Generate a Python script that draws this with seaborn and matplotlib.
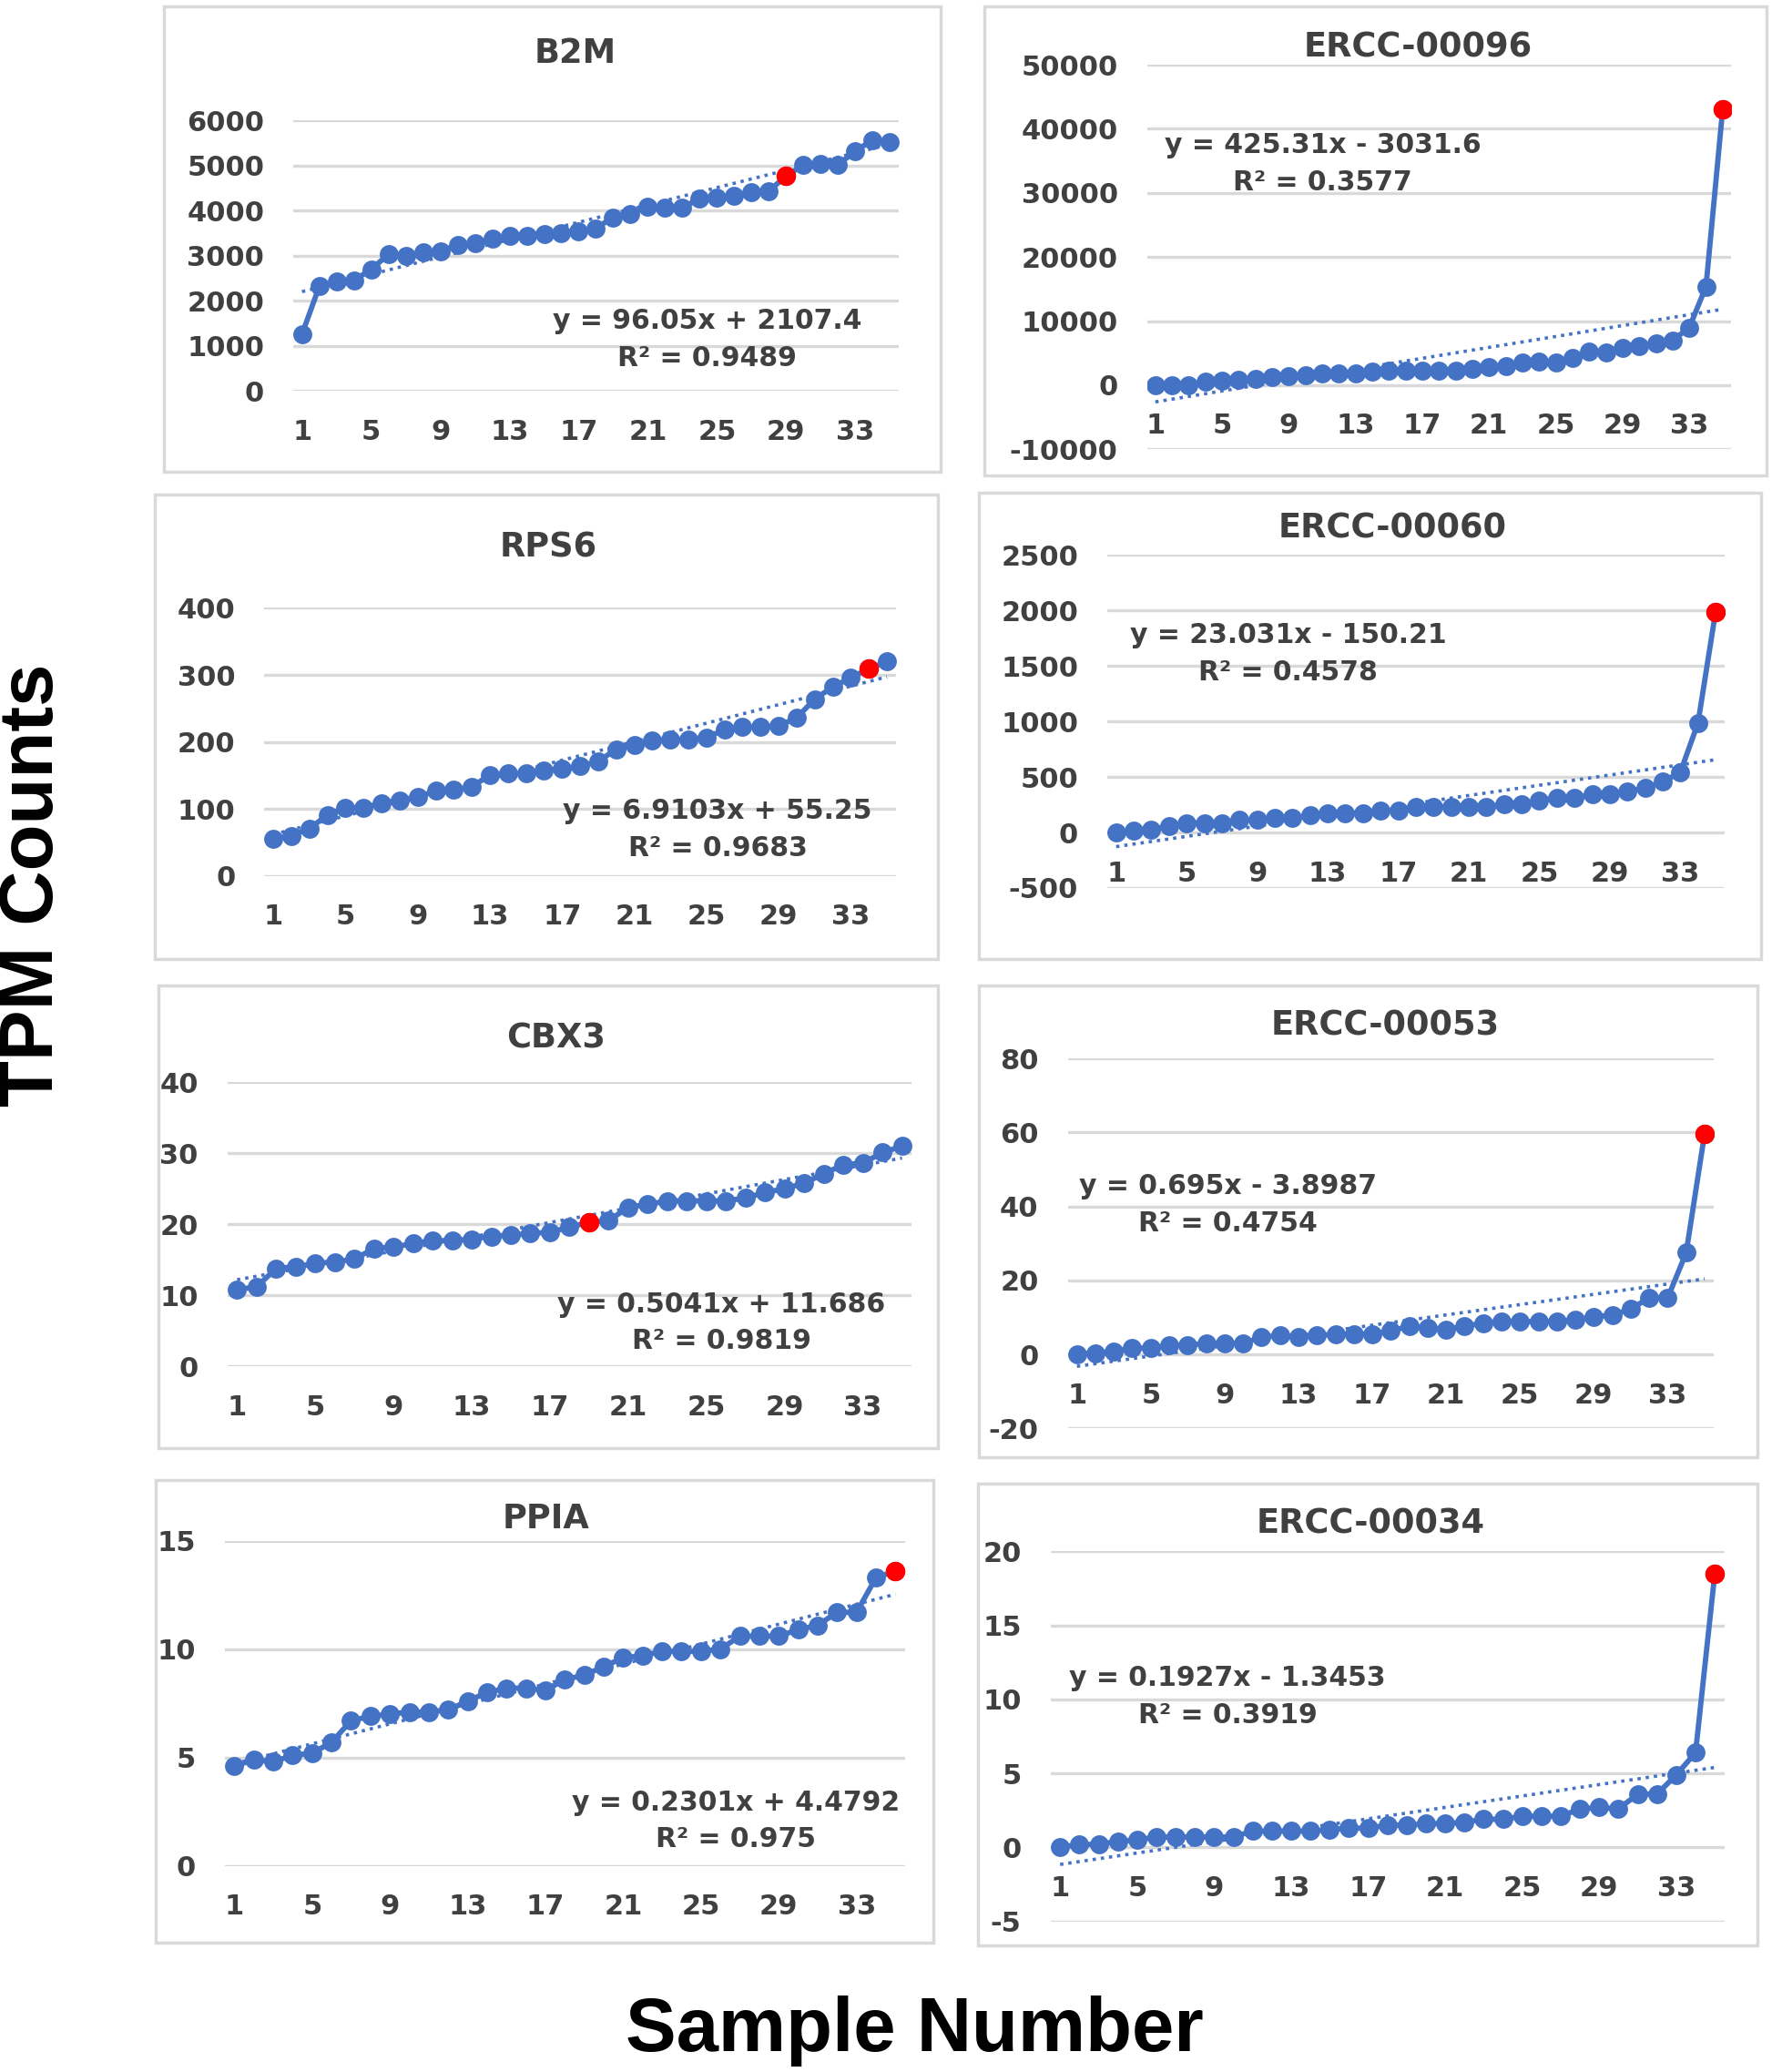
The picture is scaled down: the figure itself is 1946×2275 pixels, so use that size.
import numpy as np
import matplotlib
matplotlib.use('Agg')
import matplotlib.pyplot as plt
import seaborn as sns
from matplotlib.patches import Rectangle

# TPM counts per sample (35 samples, sorted) for each gene / spike-in
samples = list(range(1, 36))

b2m = [1260, 2320, 2420, 2450, 2700, 3030, 3000, 3070, 3100, 3240, 3270, 3370, 3440, 3440, 3480,
       3500, 3540, 3610, 3850, 3920, 4090, 4060, 4070, 4260, 4290, 4330, 4400, 4430, 4770, 5010,
       5040, 5010, 5320, 5560, 5520]
ercc_00096 = [0, 0, 0, 600, 700, 900, 1000, 1200, 1400, 1600, 1800, 1900, 1900, 2100, 2200,
              2200, 2300, 2300, 2300, 2500, 2900, 3000, 3600, 3700, 3600, 4200, 5300, 5100, 5800, 6100,
              6500, 7000, 9000, 15400, 43100]
rps6 = [55, 60, 71, 91, 102, 102, 109, 113, 118, 127, 129, 133, 151, 153, 153,
        158, 160, 164, 171, 189, 196, 202, 204, 204, 207, 218, 222, 222, 224, 236,
        264, 282, 296, 309, 320]
ercc_00060 = [0, 14, 29, 57, 86, 86, 86, 114, 114, 129, 129, 157, 171, 171, 171,
              200, 200, 229, 229, 229, 229, 229, 257, 257, 286, 314, 314, 343, 343, 371,
              400, 457, 543, 986, 1990]
cbx3 = [10.8, 11.2, 13.8, 14.0, 14.5, 14.7, 15.1, 16.6, 16.8, 17.3, 17.7, 17.7, 17.9, 18.3, 18.5,
        18.7, 18.9, 19.6, 20.3, 20.5, 22.4, 22.8, 23.3, 23.3, 23.3, 23.3, 23.7, 24.5, 25.0, 25.8,
        27.1, 28.4, 28.6, 30.1, 31.0]
ercc_00053 = [0, 0.4, 0.8, 1.7, 1.7, 2.5, 2.5, 3.0, 3.0, 3.0, 4.7, 5.1, 4.7, 5.1, 5.5,
              5.5, 5.5, 6.4, 7.6, 7.2, 6.8, 7.6, 8.5, 8.9, 8.9, 8.9, 8.9, 9.3, 10.2, 10.6,
              12.3, 15.3, 15.3, 27.5, 59.7]
ppia = [4.6, 4.9, 4.8, 5.1, 5.2, 5.7, 6.7, 6.9, 7.0, 7.1, 7.1, 7.2, 7.6, 8.0, 8.2,
        8.2, 8.1, 8.6, 8.8, 9.2, 9.6, 9.7, 9.9, 9.9, 9.9, 10.0, 10.6, 10.6, 10.6, 10.9,
        11.1, 11.7, 11.7, 13.3, 13.6]
ercc_00034 = [0, 0.2, 0.2, 0.4, 0.5, 0.7, 0.7, 0.7, 0.7, 0.7, 1.1, 1.1, 1.1, 1.1, 1.2,
              1.3, 1.3, 1.5, 1.5, 1.6, 1.6, 1.7, 1.9, 1.9, 2.1, 2.1, 2.1, 2.6, 2.7, 2.6,
              3.6, 3.6, 4.9, 6.4, 18.5]

titles = ['B2M', 'ERCC-00096', 'RPS6', 'ERCC-00060', 'CBX3', 'ERCC-00053', 'PPIA', 'ERCC-00034']
series = [b2m, ercc_00096, rps6, ercc_00060, cbx3, ercc_00053, ppia, ercc_00034]
slopes = [96.05, 425.31, 6.9103, 23.031, 0.5041, 0.695, 0.2301, 0.1927]
intercepts = [2107.4, -3031.6, 55.25, -150.21, 11.686, -3.8987, 4.4792, -1.3453]
eq_labels = ['y = 96.05x + 2107.4', 'y = 425.31x - 3031.6', 'y = 6.9103x + 55.25',
             'y = 23.031x - 150.21', 'y = 0.5041x + 11.686', 'y = 0.695x - 3.8987',
             'y = 0.2301x + 4.4792', 'y = 0.1927x - 1.3453']
r2_labels = ['R² = 0.9489', 'R² = 0.3577', 'R² = 0.9683', 'R² = 0.4578',
             'R² = 0.9819', 'R² = 0.4754', 'R² = 0.975', 'R² = 0.3919']
red_sample = [29, 35, 34, 35, 19, 35, 35, 35]
y_ticks = [list(range(0, 6001, 1000)), list(range(-10000, 50001, 10000)),
           list(range(0, 401, 100)), list(range(-500, 2501, 500)),
           list(range(0, 41, 10)), list(range(-20, 81, 20)),
           list(range(0, 16, 5)), list(range(-5, 21, 5))]
x_ticks = list(range(1, 34, 4))

# layout in reference pixels (1341 x 1568 preview)
W, H = 1341, 1568
plot_px = [(222, 91, 680, 296), (868, 49, 1310, 340), (200, 460, 678, 663), (838, 420, 1305, 672),
           (172, 819, 690, 1034), (808, 801, 1297, 1081), (170, 1166, 685, 1412), (795, 1174, 1305, 1454)]
box_px = [(124, 5, 712, 357), (745, 5, 1337, 360), (117, 374, 710, 726), (741, 373, 1333, 726),
          (120, 746, 710, 1096), (741, 746, 1330, 1103), (118, 1120, 706, 1470), (740, 1123, 1330, 1472)]
title_px = [(435, 40), (1073, 36), (415, 414), (1054, 400), (421, 786), (1048, 776), (413, 1149), (1037, 1153)]
eq_px = [(535, 243), (1001, 110), (543, 614), (975, 481), (546, 987), (929, 898), (557, 1364), (929, 1270)]

blue = '#4472C4'
txt = '#404040'

sns.set_style('white')
plt.rcParams['font.family'] = ['DejaVu Sans']
plt.rcParams['font.weight'] = 'bold'
plt.rcParams['axes.unicode_minus'] = False

fig = plt.figure(figsize=(19.46, 22.75), dpi=100)

for i in range(8):
    vals = series[i]
    x0, y0, x1, y1 = plot_px[i]
    ax = fig.add_axes([x0 / W, 1 - y1 / H, (x1 - x0) / W, (y1 - y0) / H])

    trend = [slopes[i] * s + intercepts[i] for s in samples]
    sns.lineplot(x=samples, y=vals, ax=ax, color=blue, lw=4.2, marker='o',
                 markersize=15, markeredgewidth=0, zorder=3)
    sns.lineplot(x=samples, y=trend, ax=ax, color=blue, lw=2.6,
                 linestyle=(0, (1, 1.5)), zorder=4)
    r = red_sample[i]
    sns.scatterplot(x=[r], y=[vals[r - 1]], ax=ax, color='red', s=240,
                    linewidth=0, zorder=5)

    ax.set_xlim(0.5, 35.5)
    ax.set_ylim(y_ticks[i][0], y_ticks[i][-1])
    ax.set_yticks(y_ticks[i])
    ax.set_xticks(x_ticks)
    ax.yaxis.grid(True, color='#d9d9d9', lw=2.4)
    ax.xaxis.grid(False)
    ax.set_axisbelow(True)
    for sp in ax.spines.values():
        sp.set_visible(False)
    ax.spines['bottom'].set_position(('data', 0))
    ax.tick_params(axis='x', length=0, pad=22, labelsize=22, labelcolor=txt)
    ax.tick_params(axis='y', length=0, pad=23, labelsize=22, labelcolor=txt)
    if titles[i] == 'ERCC-00053':
        # this panel shows small category tick marks on the zero line
        ax.set_xticks([k + 0.5 for k in range(36)], minor=True)
        ax.tick_params(axis='x', which='minor', length=9, width=2, color='#d9d9d9', direction='out')
    for lab in ax.get_xticklabels() + ax.get_yticklabels():
        lab.set_fontweight('bold')
    ax.set_xlabel('')
    ax.set_ylabel('')
    ax.patch.set_alpha(0)

    bx0, by0, bx1, by1 = box_px[i]
    fig.patches.append(Rectangle((bx0 / W, 1 - by1 / H), (bx1 - bx0) / W, (by1 - by0) / H,
                                 transform=fig.transFigure, fill=False,
                                 edgecolor='#d9d9d9', lw=2.5, zorder=0))

    tx, ty = title_px[i]
    fig.text(tx / W, 1 - ty / H, titles[i], ha='center', va='center',
             fontsize=26.5, fontweight='bold', color=txt)
    ex, ey = eq_px[i]
    fig.text(ex / W, 1 - ey / H, eq_labels[i], ha='center', va='center',
             fontsize=21.5, fontweight='bold', color=txt)
    fig.text(ex / W, 1 - (ey + 28) / H, r2_labels[i], ha='center', va='center',
             fontsize=21.5, fontweight='bold', color=txt)

fig.text(25 / W, 1 - 670 / H, 'TPM Counts', rotation=90, ha='center', va='center',
         fontsize=60, fontweight='bold', color='black', family='Liberation Sans')
fig.text(692 / W, 1 - 1537 / H, 'Sample Number', ha='center', va='center',
         fontsize=60, fontweight='bold', color='black', family='Liberation Sans')

fig.savefig('out.png', dpi=100, facecolor='white')
